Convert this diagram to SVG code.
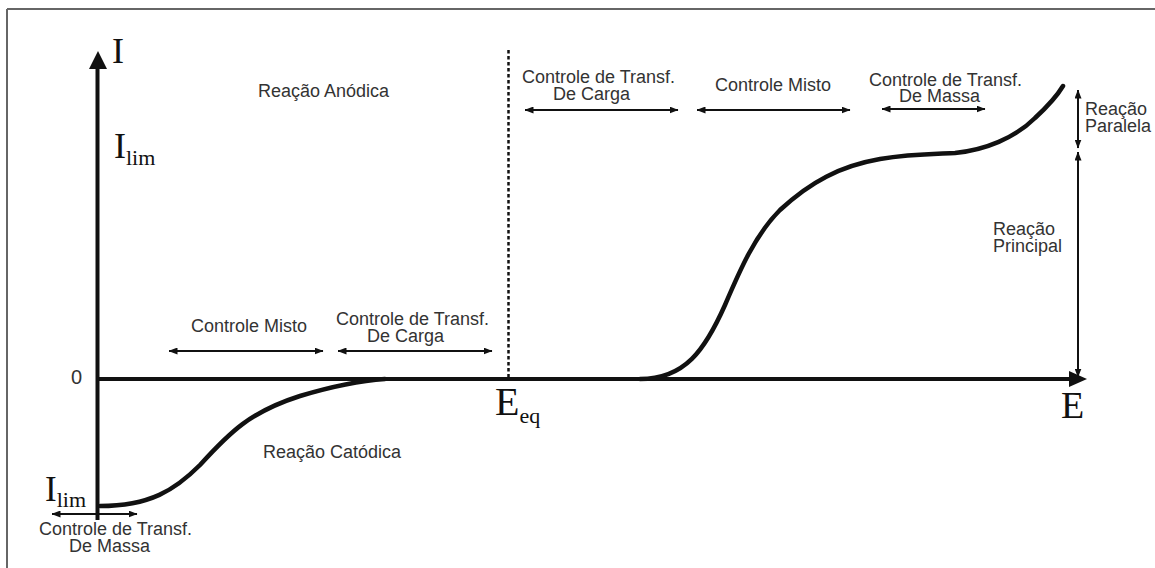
<svg xmlns="http://www.w3.org/2000/svg" width="1155" height="568" viewBox="0 0 1155 568">
  <defs>
    <marker id="ah" viewBox="0 0 9 7" refX="8.5" refY="3.5" markerWidth="9" markerHeight="7" markerUnits="userSpaceOnUse" orient="auto-start-reverse">
      <path d="M0,0 L9,3.5 L0,7 z" fill="#111"/>
    </marker>
  </defs>
  <style>
    .lbl { font-family: "Liberation Sans", Arial, sans-serif; font-size: 18px; fill: #333; }
    .sym { font-family: "Liberation Serif", "Times New Roman", serif; fill: #111; }
    .dim { stroke: #111; stroke-width: 2; fill: none; marker-start: url(#ah); marker-end: url(#ah); }
    .axis { stroke: #111; stroke-width: 4; fill: none; }
    .curve { stroke: #111; stroke-width: 4.5; fill: none; stroke-linecap: round; }
  </style>
  <rect x="0" y="0" width="1155" height="568" fill="#fff"/>
  <g id="frame">
    <line x1="7" y1="9" x2="1155" y2="9" stroke="#666" stroke-width="2"/>
    <line x1="7" y1="9" x2="7" y2="568" stroke="#666" stroke-width="2"/>
  </g>

  <g id="axes">
    <line class="axis" x1="97.5" y1="520" x2="97.5" y2="66"/>
    <polygon points="98,51 89,69 107,69" fill="#111"/>
    <line class="axis" x1="99" y1="379" x2="1072" y2="379"/>
    <polygon points="1087,379 1069,371 1069,387" fill="#111"/>
    <line id="eq-line" x1="508.5" y1="50" x2="508.5" y2="377" stroke="#111" stroke-width="2.5" stroke-dasharray="3.5,2.5"/>
  </g>

  <g id="curves">
    <path id="cathodic" class="curve" d="M100,506 C150,506 175,490 200,465 C230,432 250,412 300,396 C330,387 355,381 385,379"/>
    <path id="anodic" class="curve" d="M640,379 C685,379 705,350 725,305 C740,270 755,235 780,210 C810,182 840,166 880,159 C910,154 935,154 955,153 C985,150 1015,138 1035,118 C1048,106 1057,96 1063,86"/>
  </g>

  <g id="connectors">
    <line class="dim" x1="525" y1="110" x2="678" y2="110"/>
    <line class="dim" x1="697" y1="110" x2="850" y2="110"/>
    <line class="dim" x1="882" y1="109" x2="985" y2="109"/>
    <line class="dim" x1="169" y1="351" x2="323" y2="351"/>
    <line class="dim" x1="338" y1="351" x2="492" y2="351"/>
    <line class="dim" x1="52" y1="514" x2="137" y2="514"/>
    <line class="dim" x1="1078" y1="90" x2="1078" y2="148"/>
    <line class="dim" x1="1078" y1="152" x2="1078" y2="377"/>
  </g>

  <g id="label-I"><text class="sym" x="112" y="63" font-size="36">I</text></g>
  <g id="label-Ilim-top"><text class="sym" x="114" y="158" font-size="36">I<tspan font-size="22" dy="7">lim</tspan></text></g>
  <g id="label-zero"><text class="lbl" x="71" y="384" style="font-size:20px">0</text></g>
  <g id="label-Ilim-bottom"><text class="sym" x="45" y="501" font-size="35">I<tspan font-size="22" dy="6">lim</tspan></text></g>
  <g id="label-Eeq"><text class="sym" x="495" y="415" font-size="40">E<tspan font-size="22" dy="8">eq</tspan></text></g>
  <g id="label-E"><text class="sym" x="1061" y="418" font-size="38">E</text></g>

  <g id="reacao-anodica"><text class="lbl" x="258" y="97">Reação Anódica</text></g>
  <g id="ctc-anodic"><text class="lbl" x="522" y="83">Controle de Transf.<tspan x="553" dy="17">De Carga</tspan></text></g>
  <g id="misto-anodic"><text class="lbl" x="715" y="91">Controle Misto</text></g>
  <g id="ctm-anodic"><text class="lbl" x="869" y="86">Controle de Transf.<tspan x="899" dy="16">De Massa</tspan></text></g>
  <g id="reacao-paralela"><text class="lbl" x="1085" y="115">Reação<tspan x="1085" dy="17">Paralela</tspan></text></g>
  <g id="reacao-principal"><text class="lbl" x="993" y="235">Reação<tspan x="993" dy="17">Principal</tspan></text></g>
  <g id="misto-cathodic"><text class="lbl" x="191" y="332">Controle Misto</text></g>
  <g id="ctc-cathodic"><text class="lbl" x="336" y="325">Controle de Transf.<tspan x="367" dy="17">De Carga</tspan></text></g>
  <g id="reacao-catodica"><text class="lbl" x="263" y="458">Reação Catódica</text></g>
  <g id="ctm-cathodic"><text class="lbl" x="39" y="535">Controle de Transf.<tspan x="69" dy="17">De Massa</tspan></text></g>
</svg>
